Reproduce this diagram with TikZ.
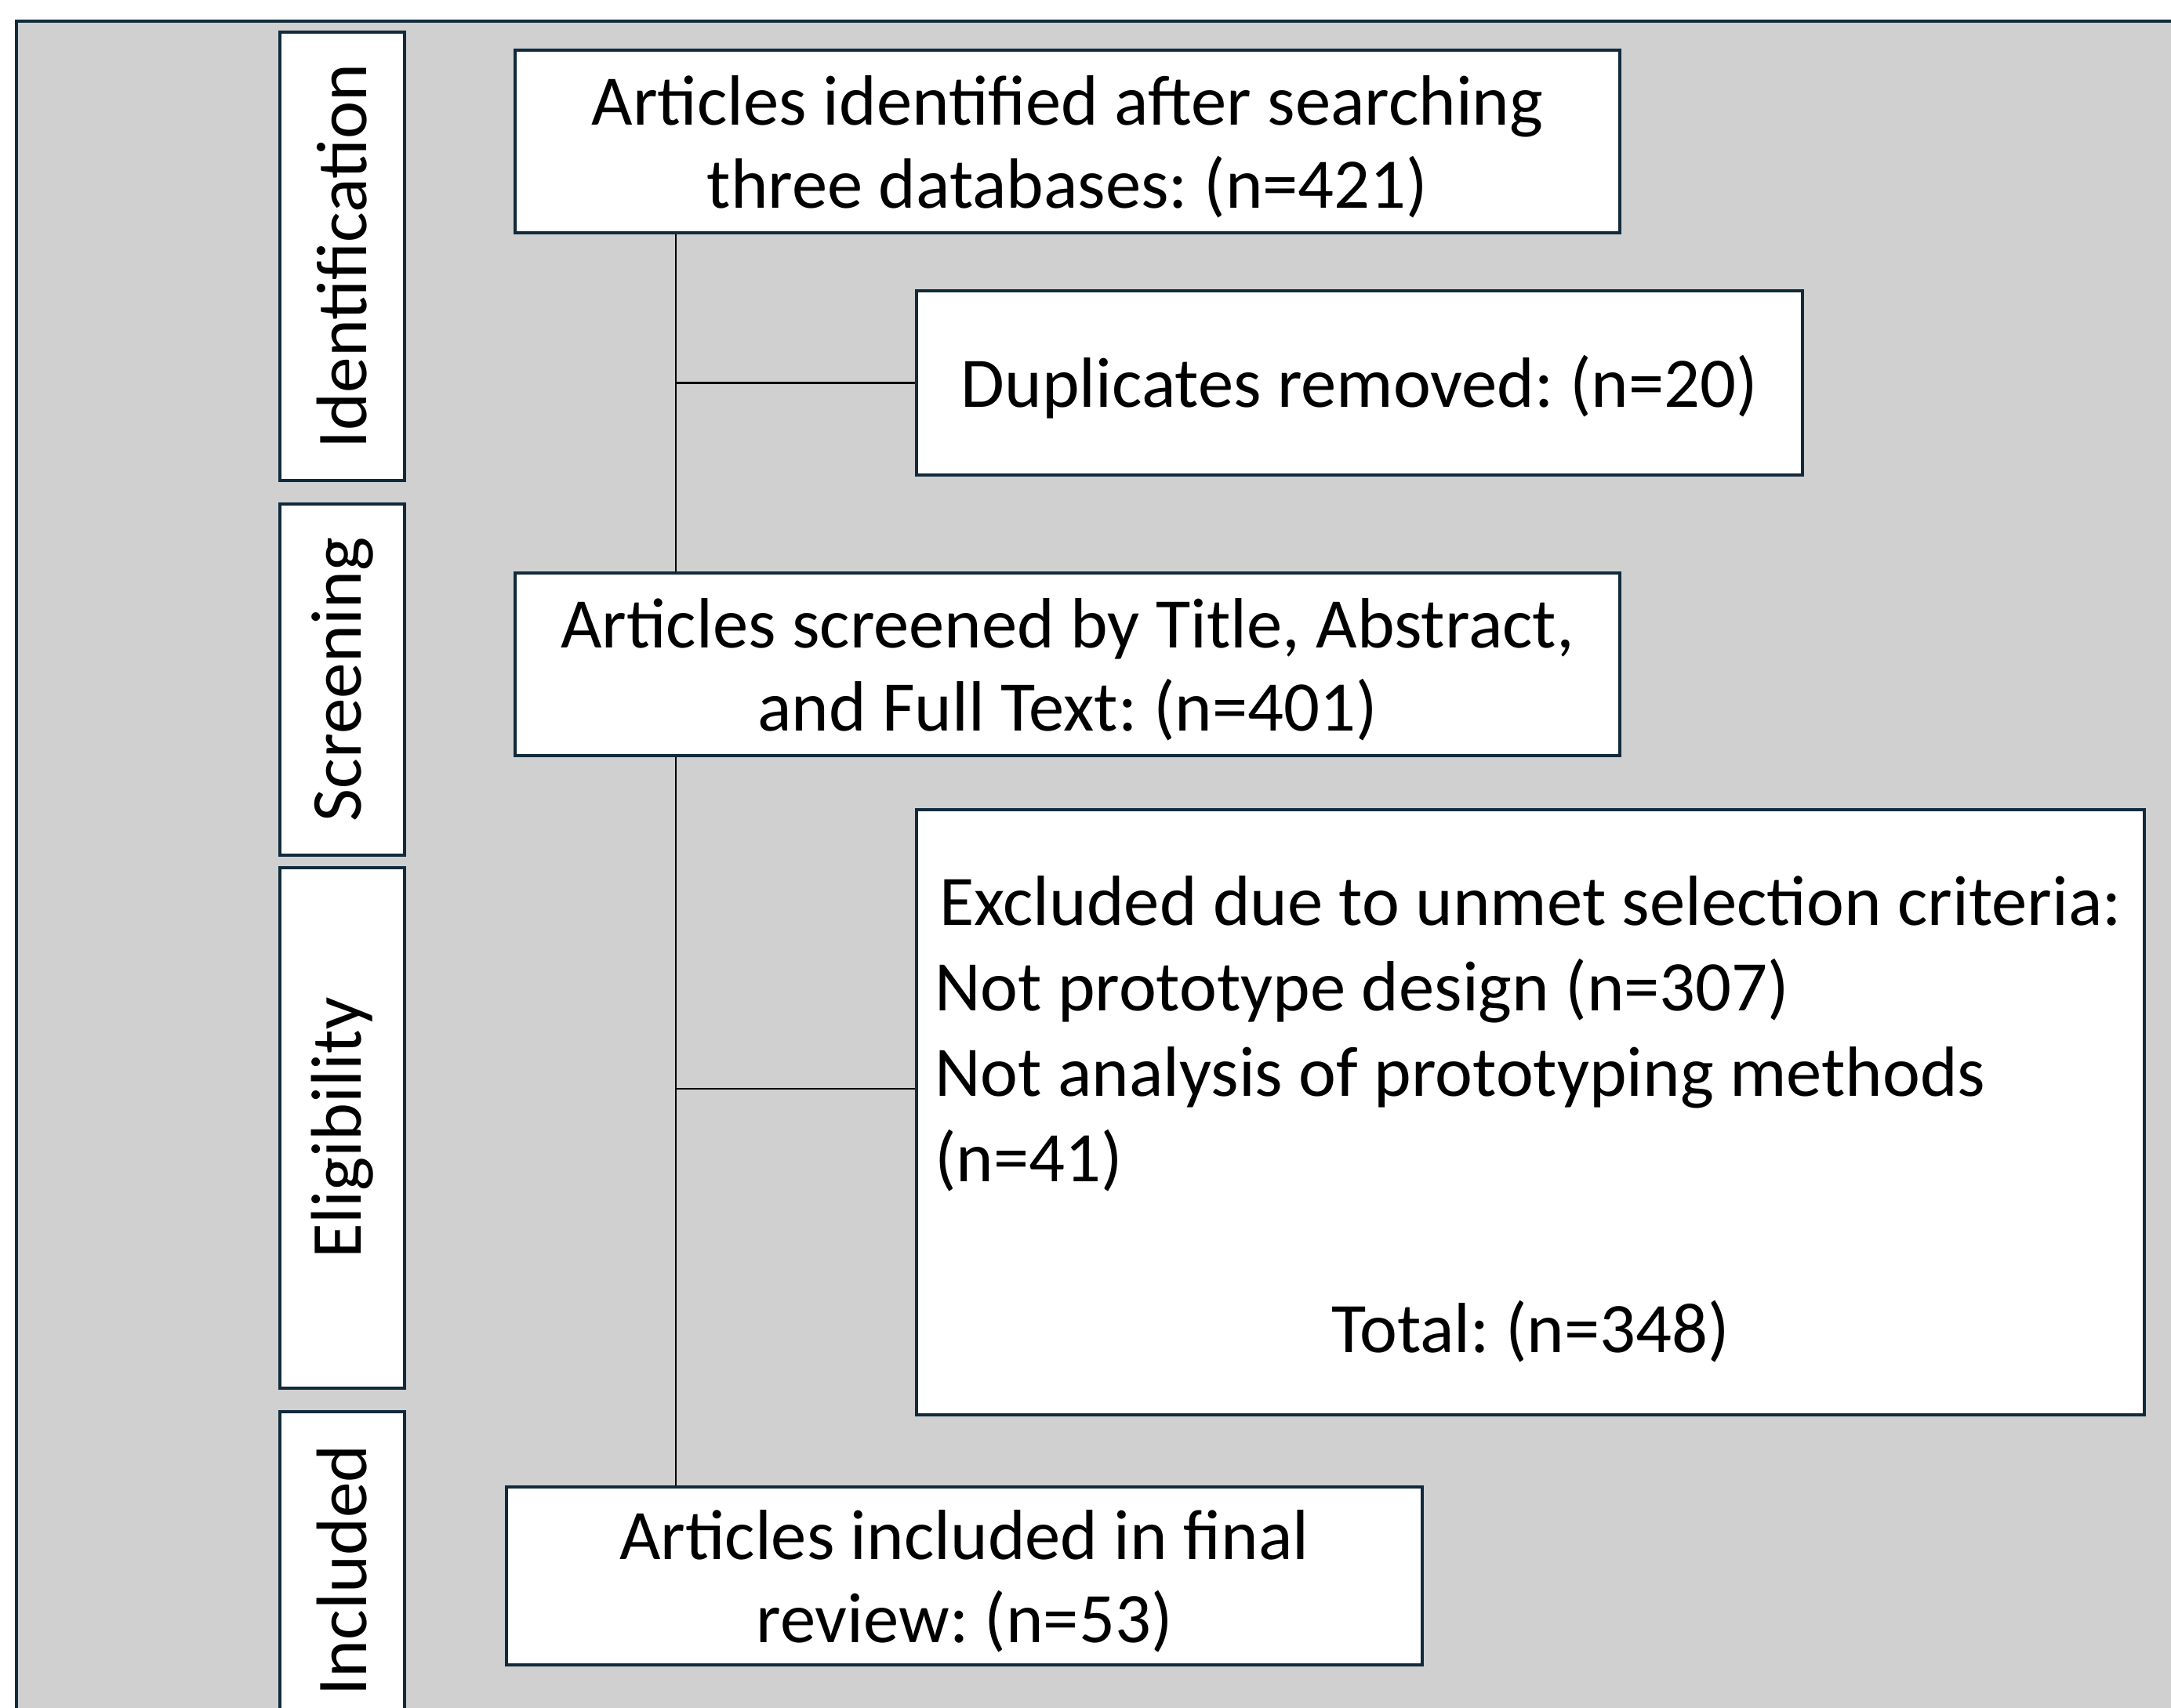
\documentclass[tikz,border=0pt]{standalone}
\usepackage{fontspec}
\setmainfont{Carlito}
\definecolor{panelgray}{HTML}{D0D0D0}
\definecolor{edgenavy}{HTML}{112B3C}

\begin{document}
\frenchspacing
\begin{tikzpicture}[
    stagebox/.style ={draw=edgenavy, line width=1.1pt, fill=white, rotate=90, minimum height=1.59cm, inner sep=0pt, font=\fontsize{26}{31}\selectfont},
    flowbox/.style ={draw=edgenavy, line width=1.1pt, fill=white, align=center, inner sep=0pt, font=\fontsize{25.8}{30.2}\selectfont},
    link/.style ={draw=black, line width=0.6pt}]
   \useasboundingbox (0,0) rectangle (27.69,-21.78);
   \clip (0,0) rectangle (27.69,-21.78);
   \draw[edgenavy, line width=1.1pt, fill=panelgray] (0.21,-0.27) rectangle (28.5,-22.5);

   % stage labels
   \node[stagebox, minimum width=5.72cm] (ident) at (4.365,-3.27)  {Identification};
   \node[stagebox, minimum width=4.48cm] (screen) at (4.365,-8.67)  {Screening};
   \node[stagebox, minimum width=6.64cm] (elig) at (4.365,-14.39)  {Eligibility};
   \node[stagebox, minimum width=4.04cm] (incl) at (4.365,-20.03)  {Included};

   % flow boxes
   \node[flowbox, minimum width=14.09cm, minimum height=2.33cm] (found) at (13.615,-1.805)
      {\rule{0pt}{22pt}Articles identified after searching\\three databases: (n=421)};
   \node[flowbox, minimum width=11.30cm, minimum height=2.35cm] (dupes) at (17.34,-4.885)
      {\rule{0pt}{22pt}Duplicates removed: (n=20)};
   \node[flowbox, minimum width=14.09cm, minimum height=2.33cm] (screened) at (13.615,-8.475)
      {\rule{0pt}{22pt}Articles screened by Title, Abstract,\\and Full Text: (n=401)};
   \node[flowbox, align=flush left, text width=15.2cm, inner xsep=0.23cm, minimum height=7.72cm,
         font=\fontsize{25.8}{31}\selectfont] (excluded) at (19.52,-14.19)
      {\rule{0pt}{23pt}\makebox[\linewidth][c]{Excluded due to unmet selection criteria:}\\
       Not prototype design (n=307)\\
       Not analysis of prototyping methods\\
       (n=41)\\[31pt]
       \makebox[\linewidth][c]{Total: (n=348)}};
   \node[flowbox, minimum width=11.68cm, minimum height=2.27cm] (final) at (12.30,-20.105)
      {\rule{0pt}{22pt}Articles included in final\\review: (n=53)};

   \coordinate (trunk) at (8.62,0);
   \draw[link] (found.south -| trunk) to (screened.north -| trunk);
   \draw[link] (trunk |- dupes.west) to (dupes.west);
   \draw[link] (screened.south -| trunk) to (final.north -| trunk);
   \draw[link] ([yshift=0.3cm]trunk |- excluded.west) to ([yshift=0.3cm]excluded.west);
 \end{tikzpicture}
\end{document}
